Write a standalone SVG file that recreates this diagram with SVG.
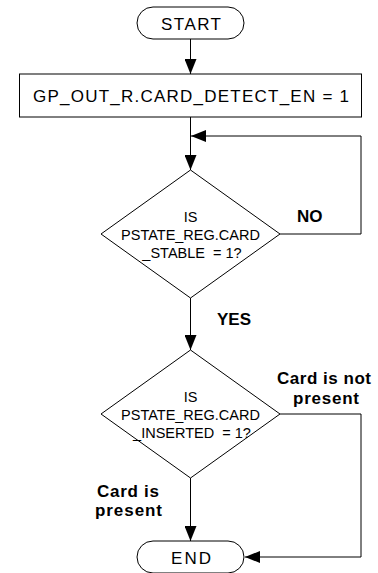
<svg xmlns="http://www.w3.org/2000/svg" width="378" height="573" viewBox="0 0 378 573">
<style>
.shape{fill:#fff;stroke:#000;stroke-width:1}
.conn{fill:none;stroke:#000;stroke-width:1}
.t{font-family:"Liberation Sans",Arial,sans-serif;fill:#000}
.big{font-size:17px}
.dia{font-size:14.5px;text-anchor:middle}
.lbl{font-size:17px;font-weight:bold}
</style>
<defs>
<marker id="ah" markerUnits="userSpaceOnUse" markerWidth="15" markerHeight="12" viewBox="0 0 15 12" refX="15" refY="6" orient="auto">
<path d="M0,0 L15,6 L0,12 z" fill="#000"/>
</marker>
</defs>
<rect width="378" height="573" fill="#fff"/>
<g id="connectors">
<line class="conn" x1="190.5" y1="39" x2="190.5" y2="74" marker-end="url(#ah)"/>
<line class="conn" x1="190.5" y1="117" x2="190.5" y2="170" marker-end="url(#ah)"/>
<polyline class="conn" points="280,234 361,234 361,136 191,136" marker-end="url(#ah)"/>
<line class="conn" x1="190.5" y1="298" x2="190.5" y2="350" marker-end="url(#ah)"/>
<line class="conn" x1="190.5" y1="478" x2="190.5" y2="541" marker-end="url(#ah)"/>
<polyline class="conn" points="280,414 361,414 361,557 245,557" marker-end="url(#ah)"/>
</g>
<g id="start">
<rect class="shape" x="137" y="7" width="107" height="32" rx="16" ry="16"/>
<text class="t big" x="161" y="30" textLength="60">START</text>
</g>
<g id="set-detect">
<rect class="shape" x="19.5" y="74" width="342" height="43"/>
<text class="t big" x="33" y="102" textLength="316">GP_OUT_R.CARD_DETECT_EN = 1</text>
</g>
<g id="check-stable">
<polygon class="shape" points="190.5,170 280,234 190.5,298 101,234"/>
<text class="t dia" x="190.5" y="222">IS</text>
<text class="t dia" x="190.5" y="240">PSTATE_REG.CARD</text>
<text class="t dia" x="192" y="258" xml:space="preserve">_STABLE  = 1?</text>
</g>
<g id="check-inserted">
<polygon class="shape" points="190.5,350 280,414 190.5,478 101,414"/>
<text class="t dia" x="190.5" y="402">IS</text>
<text class="t dia" x="190.5" y="420">PSTATE_REG.CARD</text>
<text class="t dia" x="192" y="438" xml:space="preserve">_INSERTED  = 1?</text>
</g>
<g id="end">
<rect class="shape" x="137" y="541" width="107" height="32" rx="16" ry="16"/>
<text class="t big" x="171" y="564" textLength="40">END</text>
</g>
<g id="labels">
<text class="t lbl" x="297" y="222">NO</text>
<text class="t lbl" x="217" y="325">YES</text>
<text class="t lbl" x="277" y="384" textLength="94">Card is not</text>
<text class="t lbl" x="293" y="404" textLength="66">present</text>
<text class="t lbl" x="97" y="497" textLength="62">Card is</text>
<text class="t lbl" x="95" y="516" textLength="67">present</text>
</g>
</svg>
